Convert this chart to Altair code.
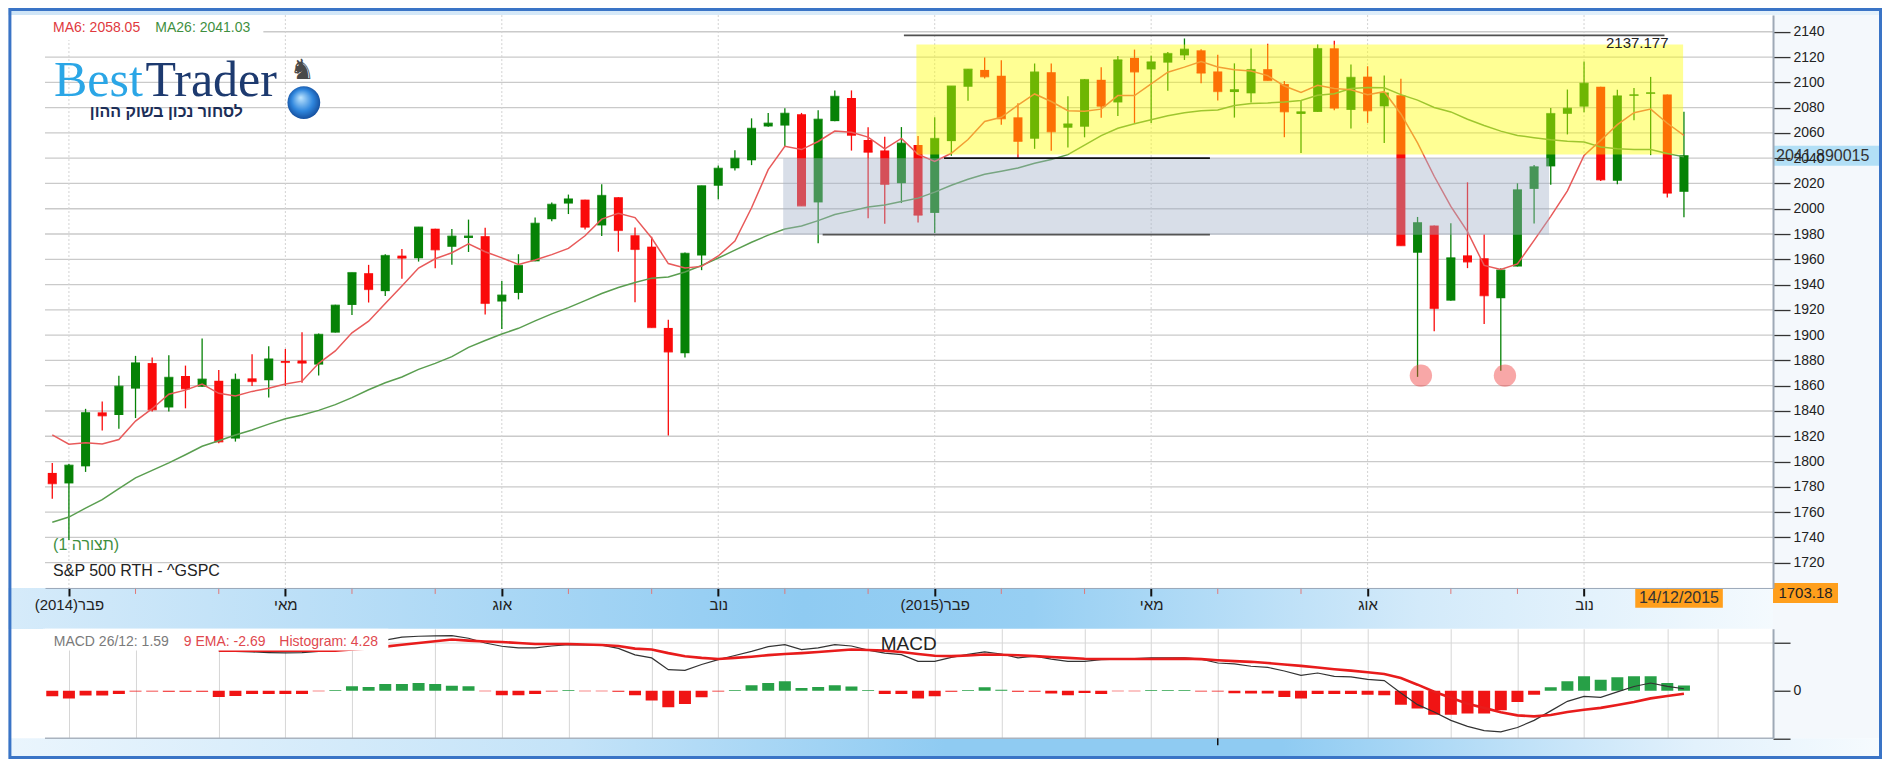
import altair as alt
import pandas as pd

# ---------------- data (weekly S&P 500, 27/01/2014 .. 14/12/2015) ----------------
OPEN = [1791.0, 1782.7, 1796.2, 1838.9, 1836.8, 1857.7, 1877.9, 1842.8, 1867.7, 1859.2,
        1863.9, 1818.2, 1865.8, 1864.3, 1879.5, 1880.0, 1876.7, 1902.0, 1923.9, 1949.0,
        1934.8, 1962.9, 1960.8, 1984.2, 1969.9, 1976.9, 1978.3, 1926.6, 1933.4, 1958.4,
        1991.7, 2004.1, 2007.2, 1986.8, 2009.1, 1979.0, 1970.0, 1905.7, 1885.6, 1963.0,
        2018.2, 2032.0, 2038.3, 2065.1, 2065.8, 2074.8, 2005.0, 2069.3, 2087.6, 2054.4,
        2046.1, 2020.2, 2050.4, 1996.7, 2053.5, 2096.5, 2109.8, 2105.2, 2072.3, 2055.4,
        2108.0, 2064.1, 2064.9, 2102.0, 2084.1, 2119.3, 2110.2, 2115.6, 2121.3, 2125.3,
        2108.6, 2092.3, 2091.3, 2110.4, 2098.6, 2075.0, 2076.6, 2126.9, 2078.2, 2104.5,
        2081.0, 2089.7, 1965.2, 1986.7, 1927.3, 1963.1, 1960.8, 1929.2, 1954.3, 2015.7,
        2033.5, 2075.1, 2080.8, 2096.6, 2022.1, 2089.4, 2091.0, 2090.4, 2013.4]
HIGH = [1798.8, 1798.0, 1841.7, 1847.5, 1867.9, 1883.6, 1882.4, 1884.0, 1875.9, 1897.3,
        1872.5, 1869.6, 1884.9, 1891.3, 1889.1, 1902.2, 1901.3, 1924.0, 1949.4, 1955.6,
        1963.9, 1968.2, 1985.6, 1984.2, 1983.9, 1991.4, 1984.9, 1942.9, 1964.0, 1993.0,
        2005.0, 2011.2, 2007.2, 2019.3, 2009.1, 1985.2, 1977.8, 1912.1, 1965.3, 2018.2,
        2034.3, 2046.2, 2071.5, 2075.8, 2079.5, 2075.8, 2077.9, 2093.6, 2093.6, 2064.4,
        2056.9, 2064.6, 2057.6, 2072.4, 2097.0, 2110.6, 2119.6, 2117.5, 2083.5, 2114.9,
        2114.9, 2089.0, 2102.6, 2111.9, 2120.9, 2125.9, 2121.0, 2124.0, 2134.7, 2126.2,
        2121.9, 2115.0, 2126.7, 2130.5, 2101.0, 2085.7, 2129.9, 2132.8, 2114.2, 2112.7,
        2105.4, 2102.9, 1993.5, 1986.7, 1988.6, 2020.9, 1979.6, 1953.0, 2020.1, 2034.5,
        2079.7, 2094.3, 2116.5, 2096.6, 2094.1, 2095.6, 2104.3, 2090.4, 2076.7]
LOW = [1770.5, 1737.9, 1791.8, 1824.6, 1825.9, 1834.4, 1839.6, 1839.5, 1842.1, 1859.2,
       1814.4, 1815.8, 1859.7, 1850.6, 1859.8, 1862.4, 1868.1, 1902.0, 1916.0, 1925.8,
       1930.9, 1944.7, 1958.2, 1952.9, 1955.6, 1965.8, 1916.4, 1904.8, 1928.3, 1958.4,
       1990.1, 1995.8, 1983.5, 1978.5, 1966.0, 1926.0, 1906.1, 1820.7, 1882.3, 1951.4,
       2007.5, 2030.2, 2034.5, 2064.8, 2049.6, 2002.3, 1972.6, 2069.3, 2046.0, 1992.4,
       1988.1, 2004.5, 1989.2, 1980.9, 2041.9, 2085.4, 2103.0, 2066.4, 2039.7, 2047.4,
       2045.8, 2048.4, 2056.5, 2072.0, 2073.4, 2067.9, 2067.9, 2093.3, 2117.7, 2099.2,
       2085.7, 2072.1, 2084.0, 2101.5, 2056.6, 2044.0, 2076.6, 2078.0, 2063.5, 2067.9,
       2052.1, 1970.9, 1867.0, 1903.1, 1927.3, 1953.0, 1908.8, 1871.9, 1954.3, 1988.4,
       2019.0, 2058.8, 2076.4, 2022.0, 2019.4, 2070.0, 2042.4, 2008.8, 1993.3]
CLOSE = [1782.6, 1797.0, 1838.6, 1836.3, 1859.5, 1878.0, 1841.1, 1866.5, 1857.6, 1865.1,
         1815.7, 1864.9, 1863.4, 1881.1, 1878.5, 1877.9, 1900.5, 1923.6, 1949.4, 1936.2,
         1962.9, 1961.0, 1985.4, 1967.6, 1978.2, 1978.3, 1925.2, 1931.6, 1955.1, 1988.4,
         2003.4, 2007.7, 1985.5, 2010.4, 1982.9, 1967.9, 1906.1, 1886.8, 1964.6, 2018.1,
         2031.9, 2039.8, 2063.5, 2067.6, 2075.4, 2002.3, 2070.7, 2088.8, 2058.2, 2044.8,
         2019.4, 2051.8, 1995.0, 2055.5, 2097.0, 2110.3, 2104.5, 2071.3, 2053.4, 2108.1,
         2061.0, 2067.0, 2102.1, 2081.2, 2117.7, 2108.3, 2116.1, 2122.7, 2126.1, 2107.4,
         2092.8, 2094.1, 2110.0, 2101.5, 2076.8, 2076.6, 2126.6, 2079.7, 2103.8, 2077.6,
         2091.5, 1970.9, 1988.9, 1921.2, 1961.1, 1958.0, 1931.3, 1951.4, 2014.9, 2033.1,
         2075.2, 2079.4, 2099.2, 2023.0, 2089.2, 2090.1, 2091.7, 2012.4, 2041.9]
MA6 = [1821.1, 1813.7, 1814.9, 1813.9, 1817.4, 1832.0, 1841.8, 1853.3, 1856.5, 1861.3,
       1854.0, 1851.8, 1855.5, 1858.0, 1861.4, 1863.6, 1877.7, 1887.5, 1901.8, 1911.0,
       1925.1, 1938.9, 1953.1, 1960.4, 1965.2, 1972.2, 1966.0, 1961.1, 1956.0, 1959.5,
       1963.7, 1968.6, 1978.6, 1991.8, 1996.4, 1993.0, 1976.8, 1956.6, 1953.1, 1954.4,
       1962.6, 1974.5, 2000.8, 2030.9, 2049.4, 2046.8, 2053.2, 2061.4, 2060.5, 2056.7,
       2047.4, 2055.6, 2043.0, 2037.5, 2043.9, 2054.8, 2069.0, 2072.3, 2082.0, 2090.8,
       2084.8, 2077.5, 2077.1, 2078.8, 2089.5, 2089.5, 2098.7, 2108.0, 2112.0, 2116.4,
       2112.2, 2109.9, 2108.9, 2105.3, 2097.1, 2092.0, 2097.6, 2095.2, 2094.2, 2090.2,
       2092.6, 2075.0, 2052.1, 2025.7, 2001.9, 1981.9, 1955.2, 1952.0, 1956.3, 1975.0,
       1994.0, 2014.2, 2042.2, 2054.1, 2066.5, 2076.0, 2078.8, 2067.6, 2058.05]
MA26 = [1752.0, 1756.1, 1763.1, 1769.8, 1778.5, 1787.1, 1793.0, 1799.0, 1805.4, 1812.1,
        1816.4, 1821.0, 1825.0, 1829.6, 1833.8, 1836.8, 1840.5, 1845.0, 1850.6, 1856.8,
        1862.3, 1866.9, 1872.9, 1877.7, 1883.0, 1890.3, 1895.8, 1900.9, 1905.4, 1911.3,
        1916.8, 1921.8, 1927.3, 1932.9, 1937.7, 1941.6, 1945.1, 1946.0, 1949.9, 1955.1,
        1961.0, 1967.2, 1973.5, 1979.1, 1983.9, 1986.4, 1990.6, 1995.5, 1998.3, 2001.3,
        2002.9, 2005.7, 2008.4, 2013.1, 2018.6, 2023.3, 2027.2, 2029.6, 2032.2, 2036.0,
        2039.0, 2042.8, 2050.3, 2057.8, 2063.7, 2067.2, 2070.4, 2073.6, 2076.0, 2077.5,
        2078.2, 2081.7, 2083.3, 2083.7, 2084.5, 2085.7, 2089.8, 2090.9, 2095.1, 2095.9,
        2095.7, 2090.3, 2085.9, 2080.1, 2076.6, 2070.8, 2065.8, 2061.4, 2058.0, 2056.2,
        2054.5, 2053.4, 2052.8, 2048.9, 2047.5, 2046.8, 2046.8, 2043.7, 2041.03]

# MACD panel (lines drawn from week 10 on)
MACD_FIRST_WEEK = 10
MACD_LINE = [33.5, 33.0, 32.5, 32.0, 31.8, 32.0, 33.0, 35.0, 38.0, 41.0,
             42.5, 45.0, 45.7, 46.0, 46.2, 44.0, 40.0, 37.3, 35.9, 36.0,
             37.5, 38.7, 38.5, 38.3, 35.5, 30.0, 27.5, 17.6, 17.0, 22.0,
             26.0, 29.5, 33.0, 37.0, 38.7, 34.5, 36.0, 38.7, 37.5, 34.0,
             31.5, 30.3, 24.6, 24.6, 28.0, 30.5, 32.5, 30.8, 27.5, 28.9,
             26.5, 24.6, 24.6, 26.0, 26.5, 27.0, 27.5, 27.5, 27.5, 26.5,
             23.2, 22.4, 20.5, 19.6, 16.5, 12.9, 14.8, 12.0, 11.5, 9.5,
             8.4, -2.0, -11.8, -18.0, -25.0, -30.0, -33.6, -34.7, -31.0, -25.0,
             -17.0, -9.0, -4.8, -5.6, -1.0, 3.5, 6.4, 3.6, 1.59]
SIGNAL = [33.6, 33.6, 33.6, 33.6, 33.5, 33.5, 33.5, 33.6, 34.5, 35.5,
          37.0, 38.5, 40.0, 41.5, 42.9, 42.0, 41.3, 40.9, 40.0, 39.2,
          39.2, 39.2, 38.8, 38.4, 37.5, 35.3, 34.5, 31.5, 28.9, 27.5,
          26.6, 27.5, 28.5, 29.8, 30.8, 31.5, 32.5, 33.5, 34.5, 34.2,
          33.6, 32.5, 30.8, 29.3, 29.0, 29.5, 30.3, 30.2, 29.7, 29.0,
          28.3, 27.5, 26.8, 26.6, 26.6, 26.6, 26.6, 26.7, 26.9, 26.5,
          25.5, 24.8, 24.2, 23.2, 22.0, 20.8, 19.5, 18.0, 16.8, 15.5,
          14.0, 10.6, 5.0, -1.0, -6.0, -11.0, -14.5, -18.2, -20.8, -21.6,
          -20.5, -18.0, -16.0, -14.5, -12.0, -9.5, -6.5, -4.5, -2.69]
HIST = [-4.8, -6.7, -4.2, -4.2, -2.8, -0.8, -0.8, -1.0, -1.0, -1.0,
        -5.3, -4.5, -2.8, -2.8, -2.8, -2.8, -0.5, 0.5, 3.6, 3.1,
        5.6, 5.6, 6.4, 5.6, 4.2, 3.6, -0.5, -3.9, -3.9, -2.8,
        -0.8, 0.5, -0.5, -0.5, -1.0, -3.9, -8.4, -14.0, -11.2, -5.6,
        -0.8, 0.5, 4.5, 6.4, 7.8, 2.2, 3.1, 4.5, 3.4, 0.5,
        -2.8, -2.8, -6.7, -4.8, -1.0, 0.5, 2.8, 0.8, -1.0, -1.0,
        -2.5, -3.9, -2.0, -2.8, -0.5, -0.5, 0.5, 0.5, 0.5, -0.8,
        -0.8, -2.2, -2.5, -2.5, -5.3, -6.7, -2.8, -2.8, -2.8, -3.4,
        -3.9, -11.8, -15.1, -20.2, -20.2, -19.3, -19.3, -16.5, -9.5, -3.4,
        2.8, 7.8, 12.0, 9.2, 11.2, 12.0, 12.0, 6.4, 4.28]

Y_TICKS = [1720, 1740, 1760, 1780, 1800, 1820, 1840, 1860, 1880, 1900, 1920,
           1940, 1960, 1980, 2000, 2020, 2040, 2060, 2080, 2100, 2120, 2140]
MAJOR_TICKS = [1, 14, 27, 40, 53, 66, 79, 92]          # week index of first week of month
MAJOR_LABELS = ["(2014)פבר", "מאי", "אוג", "נוב", "(2015)פבר", "מאי", "אוג", "נוב"]
MINOR_TICKS = [5, 10, 18, 23, 31, 36, 44, 49, 57, 62, 70, 75, 84, 88, 97, 100]
MACD_TICKS = [-40, 0, 40]

LAST_CLOSE = 2041.890015
AXIS_LOW = 1703.18
LAST_DATE = "14/12/2015"
LEVEL_TOP = 2137.177

# annotations (data units: week index / price)
GRAY_ZONE = {"i": [43.9], "i2": [89.9], "p": [1979.5], "p2": [2040.0]}
YELLOW_ZONE = {"i": [51.9], "i2": [97.95], "p": [2043.0], "p2": [2130.0]}
LEVEL_I = [51.15, 53.56, 46.27]
LEVEL_I2 = [96.83, 69.53, 69.53]
LEVEL_P = [LEVEL_TOP, 2040.0, 1979.5]
LEVEL_COL = ["#505050", "#111111", "#555555"]
MARK_I = [82.2, 87.25]
MARK_P = [1868.0, 1868.0]

# ---------------- layout constants ----------------
W = 1728.4
HM = 573
HD = 109.5
F = "Liberation Sans"

xs = alt.Scale(domain=[-0.137, 103.05], nice=False, zero=False)
ys = alt.Scale(domain=[1700, 2153.2], nice=False, zero=False)
ds = alt.Scale(domain=[-40, 52], nice=False, zero=False)

expr = "".join(f"datum.value == {v} ? '{t}' : " for v, t in zip(MAJOR_TICKS, MAJOR_LABELS)) + "''"
XAX = alt.Axis(values=MAJOR_TICKS, labelExpr=expr, grid=False, domainColor="#9aa8b8",
               domainWidth=1, tickColor="#111111", tickWidth=2, tickSize=8, labelFont=F,
               labelFontSize=15, labelColor="#222222", labelPadding=2, labelFlush=False,
               labelOverlap=False, title=None, zindex=1)
YAX = alt.Axis(orient="right", values=Y_TICKS, format="d", grid=False, domainColor="#9ea9b6",
               domainWidth=2, tickColor="#333333", tickWidth=1.3, tickSize=17, labelFont=F,
               labelFontSize=14, labelColor="#222222", labelPadding=3, title=None, zindex=1,
               labelFlush=False)


def X(f="i"):
    return alt.X(f"{f}:Q", scale=xs, axis=XAX)


def Y(f):
    return alt.Y(f"{f}:Q", scale=ys, axis=YAX)


one = pd.DataFrame({"k": [0]})


def box(x1, x2, y1, y2, **mk):
    return alt.Chart(one).mark_rect(**mk).encode(
        x=alt.value(x1), x2=alt.value(x2), y=alt.value(y1), y2=alt.value(y2))


def txt(s, x, y, size, color, align="left", baseline="middle", font=F, weight="normal"):
    return alt.Chart(one).mark_text(text=s, align=align, baseline=baseline, font=font,
                                    fontSize=size, color=color, fontWeight=weight).encode(
        x=alt.value(x), y=alt.value(y))


def grad(stops):
    return alt.Gradient(gradient="linear",
                        stops=[alt.GradientStop(offset=o, color=c) for o, c in stops],
                        x1=0, x2=1, y1=0, y2=0)


band = grad([(0, "#d6ebfa"), (0.45, "#8fcbf2"), (0.58, "#97cff3"), (0.8, "#d3eafa"), (1, "#f4fafe")])
band2 = grad([(0, "#eaf5fd"), (0.3, "#c4e3f8"), (0.5, "#8fcbf2"), (0.68, "#8fcbf2"), (0.9, "#e2f1fc"), (1, "#f6fbfe")])
topg = grad([(0, "#cfe5f7"), (1, "#e4f1fb")])

L, R = -36.6, 1837.4
decor = [
    box(L, R, -7, 0, color=topg),
    box(W, R, 0, 723.3, color="#f4f8fc"),
    box(L, W, HM, HM + 41, color=band),
    box(L, R, 723.3, 744, color=band2),
]

weeks = list(range(len(CLOSE)))
cdf = pd.DataFrame({"i": weeks, "o": OPEN, "h": HIGH, "l": LOW, "c": CLOSE, "ma6": MA6, "ma26": MA26})
base = alt.Chart(cdf)
updown = alt.condition("datum.c >= datum.o", alt.value("#068206"), alt.value("#fa0a0a"))

grid_h = alt.Chart(pd.DataFrame({"p": Y_TICKS})).mark_rule(color="#cacaca", strokeWidth=1.3).encode(y=Y("p"))
grid_v = alt.Chart(pd.DataFrame({"i": MAJOR_TICKS})).mark_rule(
    color="#d2d2d2", strokeWidth=1, strokeDash=[2, 2]).encode(x=X())
minor = alt.Chart(pd.DataFrame({"i": MINOR_TICKS})).mark_rule(color="#e07878", strokeWidth=1).encode(
    x=X(), y=alt.value(HM), y2=alt.value(HM + 6))

wicks = base.mark_rule(strokeWidth=1.3, clip=True).encode(x=X(), y=Y("l"), y2=alt.Y2("h"), color=updown)
bodies = base.mark_bar(size=9, clip=True).encode(x=X(), y=Y("o"), y2=alt.Y2("c"), color=updown)
dojis = base.mark_tick(orient="horizontal", size=9, thickness=1.5, clip=True).encode(
    x=X(), y=Y("c"), color=updown)
ma26 = base.mark_line(color="#5a9e50", strokeWidth=1.5, clip=True).encode(x=X(), y=Y("ma26"))
ma6 = base.mark_line(color="#e85a5a", strokeWidth=1.5, clip=True).encode(x=X(), y=Y("ma6"))

gray_zone = alt.Chart(pd.DataFrame(GRAY_ZONE)).mark_rect(color="#a2b0c8", opacity=0.42).encode(
    x=X(), x2=alt.X2("i2"), y=Y("p"), y2=alt.Y2("p2"))
yellow_zone = alt.Chart(pd.DataFrame(YELLOW_ZONE)).mark_rect(color="#ffff00", opacity=0.42).encode(
    x=X(), x2=alt.X2("i2"), y=Y("p"), y2=alt.Y2("p2"))

ldf = pd.DataFrame({"i": LEVEL_I, "i2": LEVEL_I2, "p": LEVEL_P, "col": LEVEL_COL})
levels = alt.Chart(ldf).mark_rule(strokeWidth=1.7).encode(
    x=X(), x2=alt.X2("i2"), y=Y("p"), color=alt.Color("col:N", scale=None))
top_lbl = alt.Chart(pd.DataFrame({"i": [LEVEL_I2[0]], "p": [LEVEL_TOP], "t": [str(LEVEL_TOP)]})).mark_text(
    align="right", baseline="middle", dx=4, dy=8, font=F, fontSize=15, color="#222222").encode(
    x=X(), y=Y("p"), text="t:N")

marks = alt.Chart(pd.DataFrame({"i": MARK_I, "p": MARK_P})).mark_point(
    shape="circle", filled=True, size=500, color="#f03c3c", opacity=0.45).encode(x=X(), y=Y("p"))

globe_grad = alt.Gradient(gradient="radial", stops=[
    alt.GradientStop(offset=0, color="#bfe6ff"), alt.GradientStop(offset=0.55, color="#2f86dd"),
    alt.GradientStop(offset=1, color="#0b3a86")], x1=0.4, y1=0.35, r1=0, x2=0.5, y2=0.5, r2=0.6)
globe = alt.Chart(one).mark_point(shape="circle", filled=True, size=1075, color=globe_grad, opacity=1).encode(
    x=alt.value(258.9), y=alt.value(87.5))

texts = [
    box(0, 218.4, 0, 25, color="white"),
    txt("MA6: 2058.05", 8.1, 13.3, 14, "#e0393e"),
    txt("MA26: 2041.03", 110.4, 13.3, 14, "#3f8f3f"),
    txt("Best", 9.0, 81, 50, "#2ba6e6", baseline="alphabetic", font="Liberation Serif"),
    txt("Trader", 100.5, 81, 50, "#1d3a6f", baseline="alphabetic", font="Liberation Serif"),
    txt("לסחור נכון בשוק ההון", 121.4, 102, 16, "#1c2e57", align="center", baseline="alphabetic", weight="bold"),
    globe,
    txt("♞", 257.4, 56, 28, "#4a4a4a", align="center", font="DejaVu Sans"),
    txt("(1 תצורה)", 8.1, 530, 16, "#3f8f3f"),
    txt("S&P 500 RTH - ^GSPC", 8.1, 555.7, 16, "#222222"),
]

cur = pd.DataFrame({"p": [LAST_CLOSE], "p2": [LAST_CLOSE], "t": [str(LAST_CLOSE)]})
cur_box = alt.Chart(cur).mark_rect(color="#a6daf4", opacity=0.85, yOffset=-10, y2Offset=10).encode(
    x=alt.value(W), x2=alt.value(1837), y=Y("p"), y2=alt.Y2("p2"))
cur_txt = alt.Chart(cur).mark_text(align="left", baseline="middle", font=F, fontSize=16,
                                   color="#333333").encode(x=alt.value(W + 3), y=Y("p"), text="t:N")
low = pd.DataFrame({"p": [AXIS_LOW], "p2": [AXIS_LOW], "t": [str(AXIS_LOW)]})
low_box = alt.Chart(low).mark_rect(color="#ff9f1c", yOffset=-1, y2Offset=19).encode(
    x=alt.value(W), x2=alt.value(W + 65), y=Y("p"), y2=alt.Y2("p2"))
low_txt = alt.Chart(low).mark_text(align="center", baseline="middle", dy=9, font=F, fontSize=15,
                                   color="#222222").encode(x=alt.value(W + 32.5), y=Y("p"), text="t:N")
dd = pd.DataFrame({"i": [weeks[-1]], "t": [LAST_DATE]})
date_box = alt.Chart(dd).mark_rect(color="#ff9f1c", xOffset=-48.7, x2Offset=38.9).encode(
    x=X(), x2=alt.X2("i"), y=alt.value(HM + 1), y2=alt.value(HM + 19.7))
date_txt = alt.Chart(dd).mark_text(align="center", baseline="middle", dx=-5, font=F, fontSize=16,
                                   color="#333333").encode(x=X(), y=alt.value(HM + 10.5), text="t:N")
frame = box(L + 1.5, R - 1.5, -5.5, 742.5, fillOpacity=0, stroke="#3a74c6", strokeWidth=3)

main = alt.layer(
    *decor, grid_h, grid_v, minor, wicks, bodies, dojis, ma26, ma6, gray_zone, yellow_zone,
    levels, top_lbl, marks, *texts, cur_box, cur_txt, low_box, low_txt, date_box, date_txt, frame
).properties(width=W, height=HM)

# ---------------- MACD panel ----------------
XAX2 = alt.Axis(values=sorted(MAJOR_TICKS + MINOR_TICKS), grid=True, gridColor="#d6d6d6", gridWidth=1,
                labels=False, ticks=False, domain=False, title=None)
YAX2 = alt.Axis(orient="right", values=MACD_TICKS, labelExpr="datum.value == 0 ? '0' : ''", grid=False,
                domainColor="#9ea9b6", domainWidth=2, tickColor="#333333", tickWidth=1.3, tickSize=17,
                labelFont=F, labelFontSize=14, labelColor="#222222", labelPadding=3, title=None, zindex=1)


def X2(f="i"):
    return alt.X(f"{f}:Q", scale=xs, axis=XAX2)


def YD(f):
    return alt.Y(f"{f}:Q", scale=ds, axis=YAX2)


mweeks = list(range(MACD_FIRST_WEEK, MACD_FIRST_WEEK + len(MACD_LINE)))
mdf = pd.DataFrame({"i": mweeks, "macd": MACD_LINE, "sig": SIGNAL})
hdf = pd.DataFrame({"i": weeks, "h": HIST})

d_grid = alt.Chart(pd.DataFrame({"v": [40]})).mark_rule(color="#d8d8d8", strokeWidth=1).encode(y=YD("v"))
d_bot = alt.Chart(pd.DataFrame({"v": [-40]})).mark_rule(color="#a9b3bf", strokeWidth=1.5).encode(y=YD("v"))
hist = alt.Chart(hdf).mark_bar(size=12, clip=True).encode(
    x=X2(), y=YD("h"), y2=alt.datum(0),
    color=alt.condition("datum.h >= 0", alt.value("#27a047"), alt.value("#f01414")))
mline = alt.Chart(mdf).mark_line(color="#333333", strokeWidth=1.2).encode(x=X2(), y=YD("macd"))
sline = alt.Chart(mdf).mark_line(color="#e81c1c", strokeWidth=2.6).encode(x=X2(), y=YD("sig"))
d_texts = [
    box(-2, 343.4, 0, 21.7, color="white"),
    txt("MACD 26/12: 1.59", 8.8, 13.5, 14, "#7a7a7a"),
    txt("9 EMA: -2.69", 138.9, 13.5, 14, "#e0484e"),
    txt("Histogram: 4.28", 234.4, 13.5, 14, "#e0484e"),
    txt("MACD", 863.9, 15.5, 19, "#222222", align="center"),
]
cursor_tick = alt.Chart(pd.DataFrame({"i": [70]})).mark_rule(color="#111111", strokeWidth=1.5).encode(
    x=X2(), y=alt.value(HD), y2=alt.value(HD + 7))

macd = alt.layer(d_grid, d_bot, hist, mline, sline, *d_texts, cursor_tick).properties(width=W, height=HD)

chart = alt.vconcat(main, macd, spacing=40.8, bounds="flush").properties(
    padding=0, background="white").configure_view(stroke=None, fill="white")

chart.save("out.html", embed_options={"renderer": "svg", "actions": False})
